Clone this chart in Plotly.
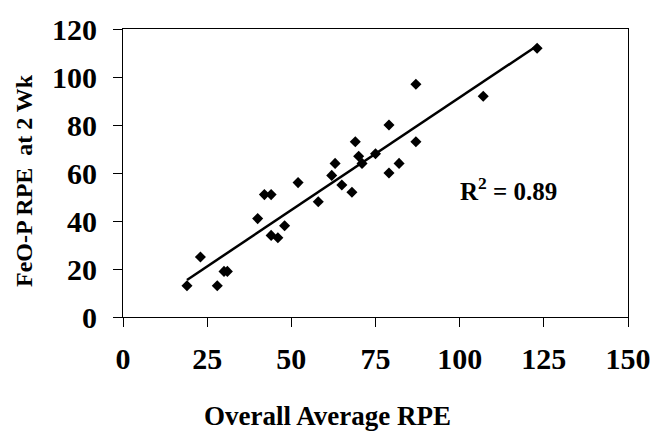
import numpy as np
import plotly.graph_objects as go

overall_avg_rpe = [19, 23, 28, 30, 31, 40, 42, 44, 44, 46, 48, 52, 58, 62, 63, 65, 68,
                   69, 70, 71, 75, 79, 79, 82, 87, 87, 107, 123]
feop_rpe_2wk = [13, 25, 13, 19, 19, 41, 51, 51, 34, 33, 38, 56, 48, 59, 64, 55, 52,
                73, 67, 64, 68, 80, 60, 64, 97, 73, 92, 112]
x_ticks = [0, 25, 50, 75, 100, 125, 150]
y_ticks = [0, 20, 40, 60, 80, 100, 120]
r2_label = "R<sup>2</sup> = 0.89"

xa = np.array(overall_avg_rpe, dtype=float)
ya = np.array(feop_rpe_2wk, dtype=float)
slope, intercept = np.polyfit(xa, ya, 1)
fit_x = [xa.min(), xa.max()]
fit_y = [slope * v + intercept for v in fit_x]

FONT = "Liberation Serif"

fig = go.Figure()
fig.add_trace(go.Scatter(
    x=overall_avg_rpe, y=feop_rpe_2wk, mode="markers",
    marker=dict(symbol="diamond", size=8.5, color="black"),
    showlegend=False,
))
fig.add_trace(go.Scatter(
    x=fit_x, y=fit_y, mode="lines",
    line=dict(color="black", width=2.5),
    showlegend=False,
))

axis_common = dict(
    showgrid=False, zeroline=False, showline=True, linecolor="black", linewidth=1,
    mirror=True, ticks="outside", ticklen=9, tickcolor="black", tickwidth=1,
    tickfont=dict(family=FONT, size=30, color="black", weight="bold"),
)
fig.update_xaxes(range=[0, 150], tickvals=x_ticks, ticktext=[str(v) for v in x_ticks],
                 ticklabelstandoff=6, **axis_common)
fig.update_yaxes(range=[0, 120], tickvals=y_ticks, ticktext=[str(v) for v in y_ticks],
                 ticklabelstandoff=10, **axis_common)

fig.add_annotation(text="FeO-P RPE\u00a0 at 2 Wk", xref="paper", yref="paper",
                   x=-0.195, y=0.474, xanchor="center", yanchor="middle",
                   textangle=-90, showarrow=False,
                   font=dict(family=FONT, size=24, color="black", weight="bold"))
fig.add_annotation(text="Overall Average RPE", xref="paper", yref="paper",
                   x=0.4055, y=-0.345, xanchor="center", yanchor="middle", showarrow=False,
                   font=dict(family=FONT, size=27, color="black", weight="bold"))
fig.add_annotation(text=r2_label, xref="x", yref="y", x=114.4, y=53.5,
                   xanchor="center", yanchor="middle", showarrow=False,
                   font=dict(family=FONT, size=25, color="black", weight="bold"))

fig.update_layout(
    width=664, height=435,
    margin=dict(l=123, r=36, t=19, b=118),
    paper_bgcolor="white", plot_bgcolor="white",
)
fig.write_html("out.html")
